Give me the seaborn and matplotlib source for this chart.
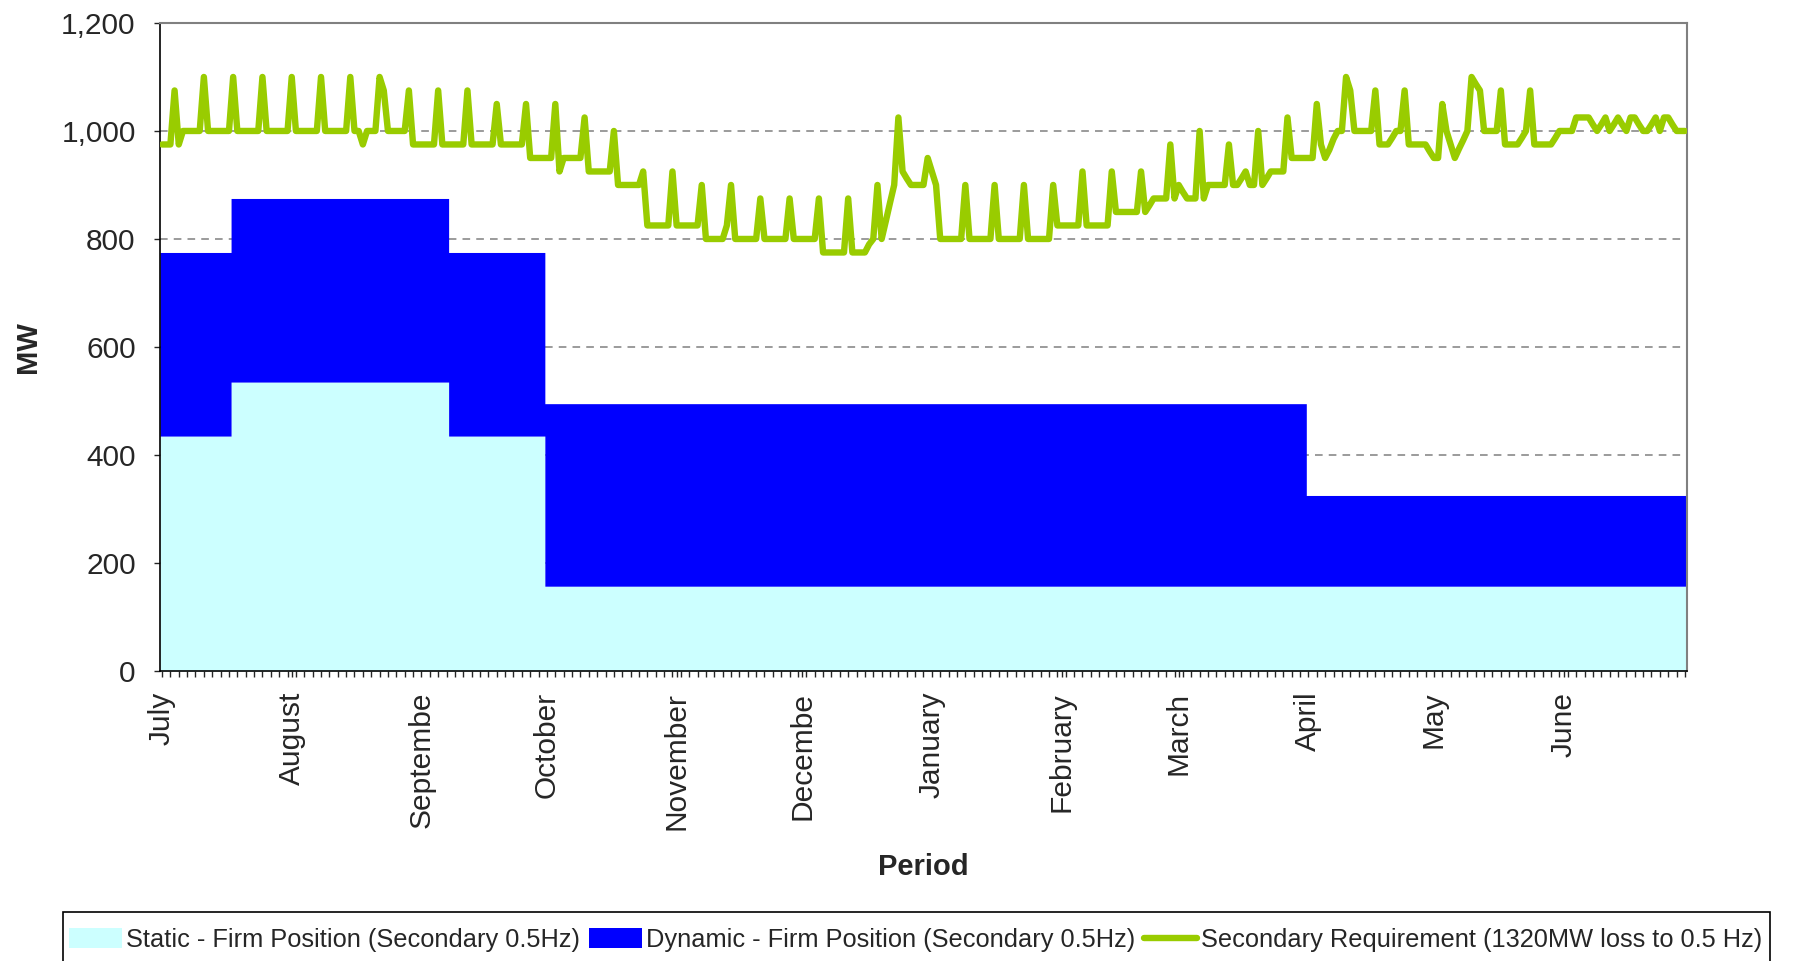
import matplotlib
matplotlib.use('Agg')
import matplotlib.pyplot as plt
from matplotlib.patches import Rectangle
import numpy as np
import seaborn as sns

# months of the year, July to June, one category per day
month_labels = ['July', 'August', 'Septembe', 'October', 'November', 'Decembe',
                'January', 'February', 'March', 'April', 'May', 'June']
month_days = [31, 31, 30, 31, 30, 31, 31, 28, 31, 30, 31, 30]

# firm positions (MW), given as segments: first day of segment and value
static_start = [0, 17, 69, 92]
static_mw = [435, 535, 435, 157]
dynamic_start = [0, 92, 274]
dynamic_mw = [340, 338, 168]

# secondary requirement (MW), one value per day, rows of 7 days
requirement = [
    975, 975, 975, 1075, 975, 1000, 1000,
    1000, 1000, 1000, 1100, 1000, 1000, 1000,
    1000, 1000, 1000, 1100, 1000, 1000, 1000,
    1000, 1000, 1000, 1100, 1000, 1000, 1000,
    1000, 1000, 1000, 1100, 1000, 1000, 1000,
    1000, 1000, 1000, 1100, 1000, 1000, 1000,
    1000, 1000, 1000, 1100, 1000, 1000, 975,
    1000, 1000, 1000, 1100, 1075, 1000, 1000,
    1000, 1000, 1000, 1075, 975, 975, 975,
    975, 975, 975, 1075, 975, 975, 975,
    975, 975, 975, 1075, 975, 975, 975,
    975, 975, 975, 1050, 975, 975, 975,
    975, 975, 975, 1050, 950, 950, 950,
    950, 950, 950, 1050, 925, 950, 950,
    950, 950, 950, 1025, 925, 925, 925,
    925, 925, 925, 1000, 900, 900, 900,
    900, 900, 900, 925, 825, 825, 825,
    825, 825, 825, 925, 825, 825, 825,
    825, 825, 825, 900, 800, 800, 800,
    800, 800, 825, 900, 800, 800, 800,
    800, 800, 800, 875, 800, 800, 800,
    800, 800, 800, 875, 800, 800, 800,
    800, 800, 800, 875, 775, 775, 775,
    775, 775, 775, 875, 775, 775, 775,
    775, 790, 800, 900, 800, 833, 867,
    900, 1025, 925, 912, 900, 900, 900,
    900, 950, 925, 900, 800, 800, 800,
    800, 800, 800, 900, 800, 800, 800,
    800, 800, 800, 900, 800, 800, 800,
    800, 800, 800, 900, 800, 800, 800,
    800, 800, 800, 900, 825, 825, 825,
    825, 825, 825, 925, 825, 825, 825,
    825, 825, 825, 925, 850, 850, 850,
    850, 850, 850, 925, 850, 862, 875,
    875, 875, 875, 975, 875, 900, 887,
    875, 875, 875, 1000, 875, 900, 900,
    900, 900, 900, 975, 900, 900, 912,
    925, 900, 900, 1000, 900, 912, 925,
    925, 925, 925, 1025, 950, 950, 950,
    950, 950, 950, 1050, 975, 950, 965,
    985, 1000, 1000, 1100, 1075, 1000, 1000,
    1000, 1000, 1000, 1075, 975, 975, 975,
    987, 1000, 1000, 1075, 975, 975, 975,
    975, 975, 962, 950, 950, 1050, 1000,
    975, 950, 967, 983, 1000, 1100, 1087,
    1075, 1000, 1000, 1000, 1000, 1075, 975,
    975, 975, 975, 987, 1000, 1075, 975,
    975, 975, 975, 975, 987, 1000, 1000,
    1000, 1000, 1025, 1025, 1025, 1025, 1012,
    1000, 1012, 1025, 1000, 1012, 1025, 1012,
    1000, 1025, 1025, 1012, 1000, 1000, 1012,
    1025, 1000, 1025, 1025, 1012, 1000, 1000,
    1000,
]

n = len(requirement)
days = np.arange(n)


def expand(starts, values):
    lengths = np.diff(starts + [n])
    return np.repeat(values, lengths)


static = expand(static_start, static_mw)
dynamic = expand(dynamic_start, dynamic_mw)
month_pos = np.concatenate([[0], np.cumsum(month_days)[:-1]])

sns.set_style('white')
plt.rcParams['font.family'] = ['Liberation Sans', 'DejaVu Sans']

fig = plt.figure(figsize=(17.93, 9.61), dpi=100)
ax = fig.add_axes([0.0892, 0.3018, 0.8517, 0.6743])

edges = np.arange(n + 1) - 0.5
st = np.append(static, static[-1])
dy = np.append(static + dynamic, (static + dynamic)[-1])
ax.fill_between(edges, 0, st, step='post', color='#CCFFFF', lw=0,
                label='Static - Firm Position (Secondary 0.5Hz)', zorder=2)
ax.fill_between(edges, st, dy, step='post', color='#0000FF', lw=0,
                label='Dynamic - Firm Position (Secondary 0.5Hz)', zorder=2)
sns.lineplot(x=days, y=requirement, ax=ax, color='#99CC00', linewidth=4.6,
             solid_joinstyle='round', solid_capstyle='round', zorder=3,
             label='Secondary Requirement (1320MW loss to 0.5 Hz)')

ax.set_xlim(-0.5, n - 0.5)
ax.set_ylim(0, 1200)
ax.set_yticks(range(0, 1201, 200))
ax.set_yticklabels([f'{v:,}' for v in range(0, 1201, 200)])
ax.yaxis.grid(True, color='#808080', linestyle=(0, (5, 4)), linewidth=1.1, zorder=1)
ax.set_axisbelow(True)

ax.set_xticks(month_pos)
ax.set_xticklabels(month_labels, rotation=90, va='top', ha='center')
ax.set_xticks(np.arange(0, n, 2), minor=True)
ax.tick_params(axis='y', direction='out', length=4.5, width=1, labelsize=21.5, pad=13, left=True)
ax.tick_params(axis='x', which='both', direction='out', length=4, width=1, labelsize=21.5, pad=11, bottom=True)

for side in ['left', 'bottom']:
    ax.spines[side].set_color('black')
    ax.spines[side].set_linewidth(1.2)
for side in ['top', 'right']:
    ax.spines[side].set_color('#808080')
    ax.spines[side].set_linewidth(1.5)

ax.set_ylabel('MW', fontsize=21, fontweight='bold')
ax.set_xlabel('Period', fontsize=21, fontweight='bold')
ax.yaxis.set_label_coords(-0.077, 0.5)
ax.xaxis.set_label_coords(0.5, -0.281)

handles, labels = ax.get_legend_handles_labels()
ax.get_legend().remove()
leg = fig.legend(handles, labels, loc='center left', bbox_to_anchor=(0.0383, 0.0219),
                 ncol=3, fontsize=18.3, frameon=False, borderpad=0, borderaxespad=0,
                 handlelength=2.1, handleheight=0.8, handletextpad=0.15,
                 columnspacing=0.35)
for line in leg.get_lines():
    line.set_linewidth(4.6)
fig.patches.append(Rectangle((63 / 1793, -0.02), (1770 - 63) / 1793, 0.02 + 49 / 961,
                             transform=fig.transFigure, fill=False,
                             edgecolor='black', linewidth=1.2))

fig.savefig('out.png', dpi=100)
